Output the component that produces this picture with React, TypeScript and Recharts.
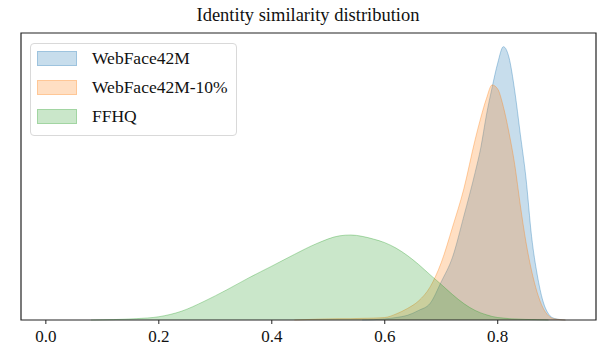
import {Area, AreaChart, ReferenceArea, XAxis, YAxis} from 'recharts';

const X_VALUES = [
    0.08, 0.12, 0.16, 0.20, 0.24, 0.28, 0.32, 0.36, 0.40, 0.44, 0.48, 0.52, 0.54, 0.56, 0.58, 0.60,
    0.62, 0.64, 0.66, 0.68, 0.70, 0.72, 0.74, 0.76, 0.77, 0.78, 0.79, 0.80, 0.81, 0.82, 0.83, 0.84,
    0.85, 0.86, 0.87, 0.88, 0.89, 0.90, 0.92,
];

const WEBFACE = [
    null, null, null, null, null, null, null, null, null, null, null, null, null, 0, 0.1, 0.4,
    0.9, 1.7, 3.5, 6.0, 14, 23, 38, 54, 63, 75, 85, 94, 100, 96, 84, 68,
    52, 30.5, 16.5, 7, 2.2, 0.6, 0,
];

const WEBFACE_10 = [
    null, null, null, null, null, null, null, null, null, 0, 0.3, 0.5, 0.5, 0.6, 0.7, 0.9,
    2.2, 4.2, 7.0, 12, 21, 34, 48, 66, 74, 81, 86, 84.5, 78, 68.5, 57, 42,
    28.5, 18, 10, 4.5, 1.5, 0.4, 0,
];

const FFHQ = [
    0, 0.15, 0.5, 1.2, 3.2, 6.8, 11.0, 15.5, 19.7, 24.0, 28.0, 30.8, 31.1, 30.6, 29.6, 28.3,
    26.3, 23.6, 20.3, 16.6, 13.0, 9.3, 6.0, 3.5, 2.6, 1.9, 1.3, 0.9, 0.7, 0.5, 0.4, 0.3,
    0.2, 0.15, 0.1, 0.05, 0, null, null,
];

const X_TICKS = [0, 0.2, 0.4, 0.6, 0.8];
const X_DOMAIN = [-0.044, 0.974];
const Y_DOMAIN = [0, 105];

const SERIES = [
    {key: 'webface', name: 'WebFace42M', color: '#1f77b4'},
    {key: 'webface10', name: 'WebFace42M-10%', color: '#ff7f0e'},
    {key: 'ffhq', name: 'FFHQ', color: '#2ca02c'},
];

const FONT = "'Liberation Serif', 'DejaVu Serif', serif";

const chartData = X_VALUES.map((x, i) => ({
    x,
    webface: WEBFACE[i],
    webface10: WEBFACE_10[i],
    ffhq: FFHQ[i],
}));

function XTick({x, y, payload}: any) {
    return (
        <text x={x} y={y} dy="0.71em" textAnchor="middle" fill="#111"
              style={{fontFamily: FONT, fontSize: 17}}>
            {Number(payload.value).toFixed(1)}
        </text>
    );
}

function LegendBox() {
    return (
        <div style={{
            position: 'absolute', left: 30, top: 43, width: 205, height: 91,
            border: '1px solid #d9d9d9', borderRadius: 4, background: 'rgba(255,255,255,0.8)',
            fontFamily: FONT, fontSize: 17.5, color: '#111',
        }}>
            {SERIES.map((s, i) => (
                <div key={s.key} style={{position: 'absolute', left: 6, top: 7 + i * 29, display: 'flex', alignItems: 'center'}}>
                    <div style={{
                        width: 38, height: 13, background: s.color + '40',
                        border: '1px solid ' + s.color + '40',
                    }}/>
                    <span style={{marginLeft: 15, lineHeight: '15px'}}>{s.name}</span>
                </div>
            ))}
        </div>
    );
}

export default function App() {
    return (
        <div style={{position: 'absolute', left: 0, top: 0, width: 598, height: 350, background: '#fff', fontFamily: FONT}}>
            <div style={{
                position: 'absolute', left: 0, width: 616, top: 5, textAlign: 'center',
                fontSize: 18.5, color: '#111',
            }}>
                Identity similarity distribution
            </div>
            <AreaChart width={598} height={350} data={chartData} style={{fontFamily: FONT}}
                       margin={{top: 33, right: 2, left: 21, bottom: 0}}>
                <XAxis dataKey="x" type="number" domain={X_DOMAIN} ticks={X_TICKS} allowDataOverflow
                       height={30} tickSize={4} tickMargin={6}
                       axisLine={false} tickLine={{stroke: '#222'}} tick={<XTick/>}/>
                <YAxis domain={Y_DOMAIN} hide/>
                {SERIES.map((s) => (
                    <Area key={s.key} type="monotone" dataKey={s.key} name={s.name}
                          stroke={s.color} strokeOpacity={0.35} strokeWidth={1}
                          fill={s.color} fillOpacity={0.25} isAnimationActive={false}/>
                ))}
                <ReferenceArea x1={X_DOMAIN[0]} x2={X_DOMAIN[1]} y1={Y_DOMAIN[0]} y2={Y_DOMAIN[1]}
                               fill="none" stroke="#222" strokeWidth={1.2} ifOverflow="visible"/>
            </AreaChart>
            <LegendBox/>
        </div>
    );
}
